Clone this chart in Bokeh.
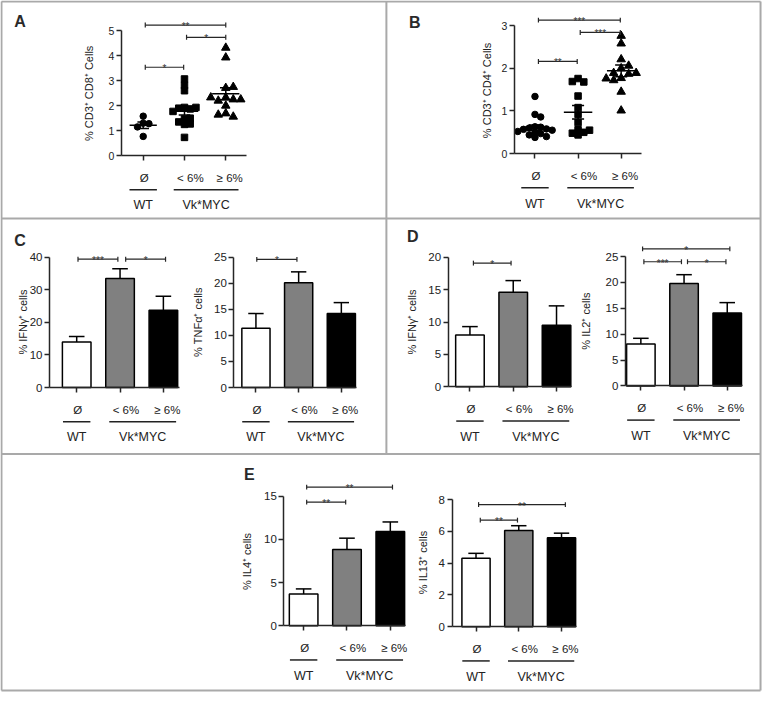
import math
from bokeh.plotting import figure
from bokeh.models import Range1d, LinearAxis, FixedTicker
from bokeh.embed import file_html
from bokeh.resources import INLINE
from bokeh.core.properties import value

FONT = "Liberation Sans"
INK = "#222222"
AXIS = "#262626"
BORDER = "#a9a9a9"

cat_labels = ["Ø", "< 6%", "≥ 6%"]
group_labels = ["WT", "Vk*MYC"]
bar_colors = ["white", "#808080", "black"]
markers = ["circle", "square", "triangle"]

# ---------------- Panel A : % CD3+ CD8+ cells (scatter) ----------------
A_wt = [1.58, 1.30, 1.28, 1.15, 0.77]
A_lo = [3.07, 2.82, 2.60, 1.93, 1.87, 1.90, 1.93, 1.77, 1.47, 1.50, 1.35, 1.25, 1.27, 0.73]
A_hi = [4.32, 3.93, 2.71, 2.75, 2.33, 2.25, 2.20, 2.25, 2.33, 2.00, 1.69, 1.56, 1.64]
A_mean = [1.22, 1.78, 2.48]
A_sem = [0.13, 0.15, 0.24]
A_ticks = [0, 1, 2, 3, 4, 5]
A_br_x0 = [1.05, 2.05, 1.05]
A_br_x1 = [3.0, 3.0, 1.98]
A_br_y = [5.23, 4.74, 3.54]
A_br_txt = ["**", "*", "*"]

# ---------------- Panel B : % CD3+ CD4+ cells (scatter) ----------------
B_wt = [1.34, 0.92, 0.86, 0.63, 0.62, 0.60, 0.58, 0.57, 0.55, 0.52, 0.50, 0.47, 0.44, 0.40, 0.38]
B_lo = [1.76, 1.68, 1.69, 1.35, 1.08, 0.92, 0.73, 0.56, 0.50, 0.44, 0.48, 0.55]
B_hi = [2.76, 2.58, 2.21, 2.06, 2.00, 1.87, 1.89, 1.89, 1.77, 1.72, 1.76, 1.45, 1.01]
B_mean = [0.61, 0.97, 1.94]
B_sem = [0.06, 0.16, 0.14]
B_ticks = [0, 1, 2, 3]
B_br_x0 = [1.08, 2.05, 1.08]
B_br_x1 = [2.98, 2.98, 1.98]
B_br_y = [3.13, 2.84, 2.16]
B_br_txt = ["***", "***", "**"]

# ---------------- Panel C ----------------
C1_mean = [14.0, 33.5, 23.7]          # % IFNg+
C1_sem = [1.7, 3.0, 4.3]
C1_ticks = [0, 10, 20, 30, 40]
C1_br_x0 = [1.03, 2.13]
C1_br_x1 = [1.95, 3.05]
C1_br_y = [39.4, 39.4]
C1_br_txt = ["***", "*"]

C2_mean = [11.4, 20.1, 14.2]          # % TNFa+
C2_sem = [2.8, 2.1, 2.1]
C2_ticks = [0, 5, 10, 15, 20, 25]
C2_br_x0 = [1.02]
C2_br_x1 = [1.96]
C2_br_y = [24.6]
C2_br_txt = ["*"]

# ---------------- Panel D ----------------
D1_mean = [8.0, 14.6, 9.5]            # % IFNg+
D1_sem = [1.3, 1.8, 3.0]
D1_ticks = [0, 5, 10, 15, 20]
D1_br_x0 = [1.08]
D1_br_x1 = [1.95]
D1_br_y = [19.1]
D1_br_txt = ["*"]

D2_mean = [8.1, 19.8, 14.1]           # % IL2+
D2_sem = [1.1, 1.7, 2.0]
D2_ticks = [0, 5, 10, 15, 20, 25]
D2_br_x0 = [1.04, 1.07, 2.08]
D2_br_x1 = [3.06, 1.94, 2.97]
D2_br_y = [26.5, 24.0, 24.0]
D2_br_txt = ["*", "***", "*"]

# ---------------- Panel E ----------------
E1_mean = [3.67, 8.85, 10.93]         # % IL4+
E1_sem = [0.6, 1.3, 1.1]
E1_ticks = [0, 5, 10, 15]
E1_br_x0 = [1.07, 1.07]
E1_br_x1 = [3.05, 1.97]
E1_br_y = [16.07, 14.33]
E1_br_txt = ["**", "**"]

E2_mean = [4.31, 6.06, 5.60]          # % IL13+
E2_sem = [0.31, 0.30, 0.29]
E2_ticks = [0, 2, 4, 6, 8]
E2_br_x0 = [1.06, 1.10]
E2_br_x1 = [3.09, 1.97]
E2_br_y = [7.69, 6.71]
E2_br_txt = ["**", "**"]

# ---------------- layout (reference pixel frame) ----------------
W_REF, H_REF = 778, 708

p = figure(width=762, height=692, x_range=Range1d(0, W_REF), y_range=Range1d(H_REF, 0),
           output_backend="svg", toolbar_location=None,
           x_axis_location=None, y_axis_location=None, min_border=0,
           outline_line_color=None, background_fill_color="white",
           border_fill_color="white")
p.title.visible = False
p.grid.visible = False

# panel borders
bx0 = [1, 1, 776, 1, 1, 1, 394]
by0 = [1, 1, 1, 706, 223, 464, 1]
bx1 = [776, 1, 776, 776, 776, 776, 394]
by1 = [1, 706, 706, 706, 223, 464, 464]
p.segment(x0=bx0, y0=by0, x1=bx1, y1=by1, line_color=BORDER, line_width=2)

# panel letters
p.text(x=[20, 423, 20, 421, 254], y=[21, 23, 246, 241, 485],
       text=["A", "B", "C", "D", "E"], text_font=value(FONT),
       text_font_size=value("16px"), text_font_style="bold", text_color="#2a2a2a",
       text_align="center", text_baseline="middle")


def style_axis(ax, fs):
    ax.axis_line_width = 1.5
    ax.axis_line_color = AXIS
    ax.major_tick_line_width = 1.5
    ax.major_tick_line_color = AXIS
    ax.major_tick_out = 5
    ax.major_tick_in = 0
    ax.minor_tick_out = 0
    ax.minor_tick_in = 0
    ax.minor_tick_line_color = None
    ax.major_label_text_font = FONT
    ax.major_label_text_font_size = fs
    ax.major_label_text_color = INK
    ax.major_label_standoff = 2


def setup(name, g, ticks, ylab):
    c1, c3 = g["c1"], g["c3"]
    k = (c3 - c1) / 2.0
    ky = (g["y0"] - g["ytop"]) / g["top"]
    p.extra_x_ranges[name] = Range1d(1 - c1 / k, 1 + (W_REF - c1) / k)
    p.extra_y_ranges[name] = Range1d((g["y0"] - H_REF) / ky, g["y0"] / ky)

    def xv(px):
        return 1 + (px - c1) / k

    def yv(py):
        return (g["y0"] - py) / ky

    yax = LinearAxis(x_range_name=name, y_range_name=name, fixed_location=xv(g["xa"]),
                     bounds=(0, g["top"]), ticker=FixedTicker(ticks=ticks, minor_ticks=[]))
    style_axis(yax, g["fs"])
    p.add_layout(yax, "left")
    xax = LinearAxis(x_range_name=name, y_range_name=name, fixed_location=0,
                     bounds=(xv(g["xa"]), xv(g["xr"])),
                     ticker=FixedTicker(ticks=[1, 2, 3], minor_ticks=[]),
                     major_label_overrides={1: "", 2: "", 3: ""})
    style_axis(xax, "10px")
    p.add_layout(xax, "below")

    kw = dict(x_range_name=name, y_range_name=name)
    c2 = (c1 + c3) / 2.0
    # category labels
    p.text(x=[xv(c1 + 1), xv(c2 + 6), xv(c3 + 4)], y=[yv(g["y0"] + 23)] * 3,
           text=cat_labels, text_font=value(FONT), text_font_size=value("11.5px"),
           text_color=INK, text_align="center", text_baseline="middle", **kw)
    # group underlines
    p.segment(x0=[xv(c1 - 14), xv(c2 - 11)], x1=[xv(c1 + 14), xv(c3 + 13)],
              y0=[yv(g["y0"] + 35)] * 2, y1=[yv(g["y0"] + 35)] * 2,
              line_color=INK, line_width=1.5, **kw)
    p.text(x=[xv(c1), xv(((c2 - 11) + (c3 + 13)) / 2)], y=[yv(g["y0"] + 51)] * 2,
           text=group_labels, text_font=value(FONT), text_font_size=value("12.5px"),
           text_color=INK, text_align="center", text_baseline="middle", **kw)
    # y label
    p.text(x=[g["lx"]], y=[g["ly"]], text=[ylab], angle=math.pi / 2,
           text_font=value(FONT), text_font_size=value("11px"), text_color=INK,
           text_align="center", text_baseline="middle")
    return k, ky, kw


def brackets(ky, kw, x0, x1, y, txt):
    cap = 2.5 / ky
    p.segment(x0=x0, x1=x1, y0=y, y1=y, line_color=AXIS, line_width=1.2, **kw)
    p.segment(x0=x0 + x1, x1=x0 + x1, y0=[v - cap for v in y] * 2,
              y1=[v + cap for v in y] * 2, line_color=AXIS, line_width=1.2, **kw)
    p.text(x=[(a + b) / 2 for a, b in zip(x0, x1)], y=[v - 1.5 / ky for v in y], text=txt,
           text_font=value(FONT), text_font_size=value("10px"), text_color="#333333",
           text_align="center", text_baseline="alphabetic", **kw)


def swarm(vals, ky, k, m):
    """Simple beeswarm: spread overlapping points sideways (pixel units)."""
    step = 0.9 * m
    placed, out = [], []
    for v in vals:
        py = v * ky
        j = 0
        while True:
            cand = ((j + 1) // 2) * step * (1 if j % 2 == 1 else -1)
            if all(abs(cand - ox) >= step * 0.99 or abs(py - oy) >= 0.8 * m for ox, oy in placed):
                break
            j += 1
        placed.append((cand, py))
        out.append(cand / k)
    return out


def scatter_panel(name, g, ticks, ylab, groups, mean, sem, bx0, bx1, by, btxt):
    k, ky, kw = setup(name, g, ticks, ylab)
    sizes = [6.5, 6.5, 8.5]
    for i, vals in enumerate(groups):
        offs = swarm(vals, ky, k, sizes[i])
        p.scatter(x=[i + 1 + o for o in offs], y=vals, marker=markers[i], size=sizes[i],
                  fill_color="black", line_color="black", **kw)
    xc = [1, 2, 3]
    p.segment(x0=[c - 0.33 for c in xc], x1=[c + 0.33 for c in xc], y0=mean, y1=mean,
              line_color="black", line_width=1.5, **kw)
    lo = [m - s for m, s in zip(mean, sem)]
    hi = [m + s for m, s in zip(mean, sem)]
    p.segment(x0=xc, x1=xc, y0=lo, y1=hi, line_color="black", line_width=1.5, **kw)
    p.segment(x0=[c - 0.14 for c in xc] * 2, x1=[c + 0.14 for c in xc] * 2, y0=lo + hi,
              y1=lo + hi, line_color="black", line_width=1.5, **kw)
    brackets(ky, kw, bx0, bx1, by, btxt)


def bar_panel(name, g, ticks, ylab, mean, sem, bx0, bx1, by, btxt):
    k, ky, kw = setup(name, g, ticks, ylab)
    xc = [1, 2, 3]
    hi = [m + s for m, s in zip(mean, sem)]
    p.segment(x0=xc, x1=xc, y0=mean, y1=hi, line_color="black", line_width=1.5, **kw)
    p.segment(x0=[c - 0.18 for c in xc], x1=[c + 0.18 for c in xc], y0=hi, y1=hi,
              line_color="black", line_width=1.5, **kw)
    p.vbar(x=xc, top=mean, bottom=0, width=0.66, fill_color=bar_colors,
           line_color="black", line_width=1.5, **kw)
    brackets(ky, kw, bx0, bx1, by, btxt)


G = {
    "A": dict(xa=123.3, c1=145.7, c3=230.0, xr=251, y0=158.7, ytop=31.0, top=5, fs="10.5px", lx=90, ly=95),
    "B": dict(xa=524.7, c1=545.7, c3=633.7, xr=654.7, y0=156.7, ytop=25.7, top=3, fs="10.5px", lx=496.3, ly=92),
    "C1": dict(xa=50, c1=77.8, c3=166.3, xr=182.7, y0=396, ytop=262.7, top=40, fs="11.5px", lx=23.3, ly=329),
    "C2": dict(xa=238.3, c1=260.8, c3=348, xr=363.3, y0=396, ytop=262.7, top=25, fs="11.5px", lx=201.7, ly=329),
    "D1": dict(xa=457, c1=479.3, c3=567.7, xr=583, y0=395.3, ytop=262.7, top=20, fs="11.5px", lx=419.7, ly=329),
    "D2": dict(xa=638, c1=653.8, c3=742, xr=757.3, y0=394.3, ytop=262, top=25, fs="11.5px", lx=598, ly=328),
    "E1": dict(xa=289.3, c1=309.5, c3=398, xr=413.3, y0=639.7, ytop=507.3, top=15, fs="11.5px", lx=251.7, ly=574),
    "E2": dict(xa=461, c1=485.5, c3=572.8, xr=588.3, y0=640.7, ytop=510.7, top=8, fs="11.5px", lx=431.7, ly=575),
}

scatter_panel("A", G["A"], A_ticks, "% CD3⁺ CD8⁺ Cells", [A_wt, A_lo, A_hi], A_mean, A_sem,
              A_br_x0, A_br_x1, A_br_y, A_br_txt)
scatter_panel("B", G["B"], B_ticks, "% CD3⁺ CD4⁺ Cells", [B_wt, B_lo, B_hi], B_mean, B_sem,
              B_br_x0, B_br_x1, B_br_y, B_br_txt)
bar_panel("C1", G["C1"], C1_ticks, "% IFNγ⁺ cells", C1_mean, C1_sem, C1_br_x0, C1_br_x1, C1_br_y, C1_br_txt)
bar_panel("C2", G["C2"], C2_ticks, "% TNFα⁺ cells", C2_mean, C2_sem, C2_br_x0, C2_br_x1, C2_br_y, C2_br_txt)
bar_panel("D1", G["D1"], D1_ticks, "% IFNγ⁺ cells", D1_mean, D1_sem, D1_br_x0, D1_br_x1, D1_br_y, D1_br_txt)
bar_panel("D2", G["D2"], D2_ticks, "% IL2⁺ cells", D2_mean, D2_sem, D2_br_x0, D2_br_x1, D2_br_y, D2_br_txt)
bar_panel("E1", G["E1"], E1_ticks, "% IL4⁺ cells", E1_mean, E1_sem, E1_br_x0, E1_br_x1, E1_br_y, E1_br_txt)
bar_panel("E2", G["E2"], E2_ticks, "% IL13⁺ cells", E2_mean, E2_sem, E2_br_x0, E2_br_x1, E2_br_y, E2_br_txt)

open("out.html", "w").write(file_html(p, INLINE))
